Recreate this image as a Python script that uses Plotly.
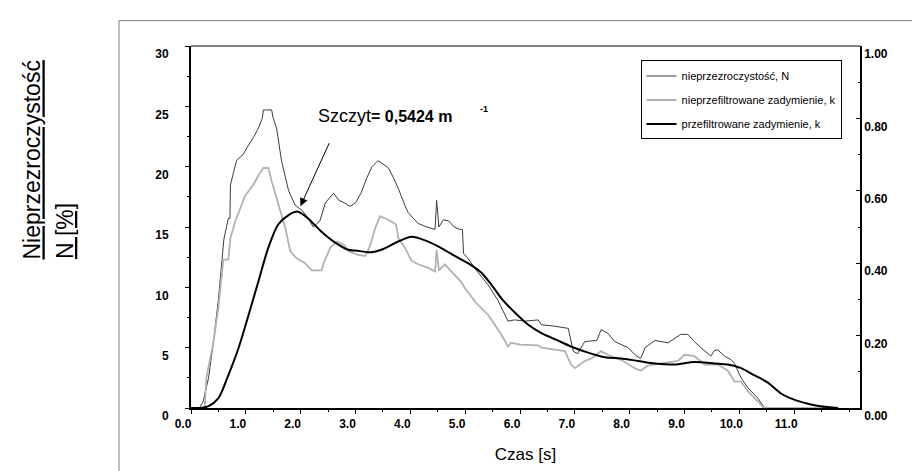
import plotly.graph_objects as go

# ---------------- data ----------------
series_names = ["nieprzezroczystość, N",
                "nieprzefiltrowane zadymienie, k",
                "przefiltrowane zadymienie, k"]

# opacity N [%] (left axis)
t_N = [0.0, 0.15, 0.22, 0.32, 0.41, 0.50, 0.60, 0.68, 0.71, 0.72, 0.83, 0.95, 1.05, 1.15,
       1.23, 1.30, 1.32, 1.47, 1.50, 1.56, 1.65, 1.78, 1.90, 2.02, 2.14, 2.23, 2.35, 2.45,
       2.60, 2.70, 2.80, 2.90, 3.00, 3.10, 3.20, 3.30, 3.41, 3.50, 3.60, 3.70, 3.78, 3.90,
       3.96, 4.14, 4.30, 4.45, 4.48, 4.52, 4.60, 4.70, 4.80, 4.90, 4.95, 4.97, 5.05, 5.24,
       5.42, 5.60, 5.78, 5.90, 6.10, 6.33, 6.39, 6.60, 6.88, 6.97, 7.05, 7.18, 7.40, 7.48,
       7.60, 7.73, 7.97, 8.10, 8.20, 8.28, 8.46, 8.70, 8.93, 9.06, 9.18, 9.30, 9.37, 9.48,
       9.55, 9.61, 9.73, 9.85, 9.91, 10.03, 10.15, 10.34, 10.43, 10.47, 11.8]
N = [0.0, 0.0, 0.5, 2.5, 5.5, 9.0, 14.0, 15.7, 15.7, 18.5, 20.5, 21.0, 21.8, 22.5,
     23.2, 24.0, 24.7, 24.7, 24.0, 23.2, 20.5, 18.0, 16.8, 16.4, 15.7, 15.0, 15.5, 17.0,
     17.8, 17.2, 17.0, 16.7, 17.0, 17.8, 19.0, 20.0, 20.5, 20.2, 19.9, 19.0, 18.2, 16.8,
     16.2, 15.3, 15.0, 14.8, 17.2, 15.0, 15.6, 15.5, 15.0, 14.8, 14.8, 12.8, 12.4, 11.2,
     10.2, 8.9, 7.2, 7.3, 7.2, 7.3, 6.9, 6.8, 6.6, 4.7, 4.5, 5.5, 5.6, 6.5,
     6.2, 5.5, 5.0, 4.4, 4.1, 5.0, 5.6, 5.4, 6.1, 6.1, 5.5, 5.0, 4.7, 4.3,
     4.8, 4.8, 4.3, 4.0, 3.7, 2.5, 1.7, 0.8, 0.2, 0.0, 0.0]

# unfiltered extinction k [1/m] (right axis)
t_k = [0.0, 0.25, 0.28, 0.41, 0.50, 0.56, 0.59, 0.68, 0.72, 0.81, 0.90, 0.99, 1.14, 1.23,
       1.32, 1.41, 1.47, 1.56, 1.63, 1.72, 1.81, 1.93, 2.08, 2.20, 2.38, 2.42, 2.54, 2.66,
       2.80, 2.87, 3.05, 3.18, 3.27, 3.36, 3.45, 3.60, 3.74, 3.78, 3.90, 4.02, 4.14, 4.33,
       4.45, 4.48, 4.52, 4.63, 4.75, 4.92, 5.00, 5.20, 5.42, 5.66, 5.78, 5.84, 6.00, 6.33,
       6.39, 6.82, 6.93, 7.00, 7.18, 7.30, 7.48, 7.60, 7.84, 8.09, 8.20, 8.33, 8.57, 8.88,
       9.00, 9.18, 9.37, 9.61, 9.79, 9.91, 10.03, 10.15, 10.28, 10.39, 10.45, 11.8]
k_raw = [0.0, 0.0, 0.083, 0.183, 0.277, 0.377, 0.410, 0.410, 0.470, 0.517, 0.553, 0.587, 0.617, 0.643,
         0.663, 0.663, 0.627, 0.580, 0.543, 0.497, 0.433, 0.413, 0.400, 0.380, 0.380, 0.400, 0.443, 0.460,
         0.450, 0.433, 0.423, 0.420, 0.450, 0.497, 0.530, 0.520, 0.507, 0.470, 0.443, 0.407, 0.397, 0.387,
         0.377, 0.437, 0.380, 0.397, 0.377, 0.350, 0.330, 0.290, 0.257, 0.203, 0.170, 0.180, 0.175, 0.173,
         0.167, 0.157, 0.120, 0.110, 0.130, 0.137, 0.157, 0.147, 0.133, 0.110, 0.103, 0.117, 0.123, 0.130,
         0.147, 0.143, 0.120, 0.120, 0.103, 0.073, 0.073, 0.047, 0.027, 0.008, 0.0, 0.0]

# filtered extinction k [1/m] (right axis)
t_kf = [0.0, 0.15, 0.32, 0.50, 0.68, 0.87, 1.05, 1.23, 1.41, 1.59, 1.78, 1.95, 2.14, 2.38,
        2.63, 2.87, 3.00, 3.29, 3.47, 3.78, 4.02, 4.27, 4.50, 4.81, 5.05, 5.30, 5.48, 5.66,
        5.91, 6.15, 6.39, 6.64, 6.93, 7.24, 7.55, 7.84, 8.15, 8.46, 8.82, 9.18, 9.55, 9.79,
        10.03, 10.28, 10.52, 10.76, 11.00, 11.25, 11.48, 11.80]
k_filt = [0.0, 0.0, 0.005, 0.027, 0.090, 0.167, 0.257, 0.350, 0.443, 0.507, 0.533, 0.5424, 0.523, 0.487,
          0.457, 0.437, 0.435, 0.430, 0.437, 0.460, 0.473, 0.463, 0.447, 0.420, 0.400, 0.373, 0.340, 0.303,
          0.263, 0.230, 0.207, 0.190, 0.170, 0.153, 0.140, 0.137, 0.130, 0.123, 0.120, 0.127, 0.123, 0.120,
          0.110, 0.090, 0.070, 0.040, 0.023, 0.012, 0.005, 0.0]

peak_t = 1.95
peak_k = 0.5424

x_tick_vals = [0, 1, 2, 3, 4, 5, 6, 7, 8, 9, 10, 11]
x_tick_text = ["0.0", "1.0", "2.0", "3.0", "4.0", "5.0", "6.0", "7.0", "8.0", "9.0", "10.0", "11.0"]
y_tick_vals = [0, 5, 10, 15, 20, 25, 30]
y2_tick_vals = [0.0, 0.2, 0.4, 0.6, 0.8, 1.0]

FONT = "Liberation Sans, Arial, sans-serif"

fig = go.Figure()
fig.add_trace(go.Scatter(x=t_N, y=N, name=series_names[0], mode="lines",
                         line=dict(color="#3c3c3c", width=1), yaxis="y", legendgroup="a"))
fig.add_trace(go.Scatter(x=t_k, y=k_raw, name=series_names[1], mode="lines",
                         line=dict(color="#b2b2b2", width=1.8), yaxis="y2", legendgroup="b"))
fig.add_trace(go.Scatter(x=t_kf, y=k_filt, name=series_names[2], mode="lines",
                         line=dict(color="#000000", width=2, shape="spline", smoothing=0.8),
                         yaxis="y2", legendgroup="c"))

tickfont = dict(family=FONT, size=12, color="black", weight="bold")

fig.update_layout(
    width=920, height=471,
    margin=dict(l=183, r=68, t=38, b=71),
    paper_bgcolor="white", plot_bgcolor="white",
    font=dict(family=FONT, color="black"),
    showlegend=True,
    legend=dict(x=0.672, y=0.96, xanchor="left", yanchor="top",
                bordercolor="black", borderwidth=1, bgcolor="rgba(255,255,255,0)",
                font=dict(family=FONT, size=11, color="black"),
                tracegroupgap=5, itemwidth=30),
    xaxis=dict(range=[0, 12.2], tickvals=x_tick_vals, ticktext=x_tick_text,
               showgrid=False, zeroline=False, showline=True, linecolor="black", linewidth=2,
               ticks="outside", ticklen=4, tickcolor="black", tickwidth=1,
               minor=dict(dtick=0.5, ticks="outside", ticklen=2, tickcolor="black"),
               tickfont=tickfont, ticklabelshift=-8,
               title=dict(text="Czas [s]", font=dict(family=FONT, size=17), standoff=18)),
    yaxis=dict(range=[0, 30], tickvals=y_tick_vals,
               showgrid=False, zeroline=False, showline=True, linecolor="black", linewidth=2,
               ticks="outside", ticklen=4, tickcolor="black", tickwidth=1,
               minor=dict(dtick=2.5, ticks="outside", ticklen=2, tickcolor="black"),
               tickfont=tickfont, ticklabelstandoff=14, ticklabelshift=8),
    yaxis2=dict(range=[0, 1], tickvals=y2_tick_vals, tickformat=".2f", overlaying="y", side="right",
                showgrid=False, zeroline=False, showline=True, linecolor="black", linewidth=1.5,
                ticks="inside", ticklen=4, tickcolor="black", tickwidth=1,
                minor=dict(dtick=0.1, ticks="inside", ticklen=2, tickcolor="black"),
                tickfont=tickfont, ticklabelshift=8),
)

# top border of plot area
fig.add_shape(type="line", xref="paper", yref="paper", x0=0, x1=1, y0=1, y1=1,
              line=dict(color="black", width=1))
# outer frame
fig.add_shape(type="rect", xref="paper", yref="paper", x0=-0.1076, y0=-0.3, x1=1.2, y1=1.07,
              line=dict(color="#7a7a7a", width=1), layer="below")

# y axis title (two underlined rotated lines)
fig.add_annotation(xref="paper", yref="paper", x=-0.2377, y=0.406, xanchor="center", yanchor="bottom",
                   text="<u>Nieprzezroczystość</u>", textangle=-90, showarrow=False,
                   font=dict(family=FONT, size=23, color="black"))
fig.add_annotation(xref="paper", yref="paper", x=-0.1883, y=0.406, xanchor="center", yanchor="bottom",
                   text="<u>N [%]</u>", textangle=-90, showarrow=False,
                   font=dict(family=FONT, size=23, color="black"))

# peak annotation
fig.add_annotation(xref="x", yref="y2", x=peak_t, y=peak_k, text="", showarrow=True,
                   arrowhead=2, arrowsize=1.6, arrowwidth=1, arrowcolor="black",
                   ax=32, ay=-70, standoff=6)
fig.add_annotation(xref="paper", yref="paper", x=(308 - 183) / 669, y=(400 - 108) / 362,
                   xanchor="left", yanchor="middle", showarrow=False,
                   text="Szczyt<b><span style='font-size:16px'>= %s m</span></b>" % f"{peak_k:.4f}".replace(".", ","),
                   font=dict(family=FONT, size=18, color="black"))
fig.add_annotation(xref="paper", yref="paper", x=(470 - 183) / 669, y=(400 - 101) / 362,
                   xanchor="left", yanchor="middle", showarrow=False,
                   text="<b>-1</b>", font=dict(family=FONT, size=9, color="black"))

fig.write_html("out.html")
